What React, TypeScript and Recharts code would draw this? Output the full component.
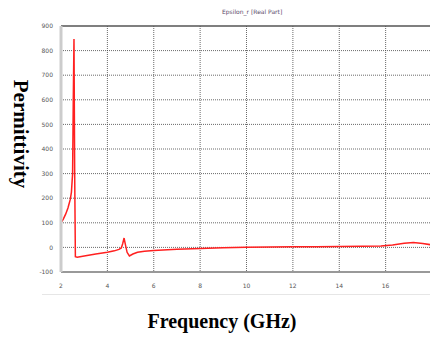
import React from 'react';
import { LineChart, Line, XAxis, YAxis, CartesianGrid, ReferenceLine } from 'recharts';

const freqGHz = [2.0, 2.1, 2.2, 2.3, 2.4, 2.45, 2.5, 2.53, 2.56, 2.59, 2.62, 2.7, 3.0, 3.5, 4.0, 4.3, 4.5, 4.6, 4.66, 4.72, 4.78, 4.85, 4.95, 5.1, 5.3, 5.6, 6.0, 7.0, 8.0, 9.0, 10.0, 11.0, 12.0, 13.0, 14.0, 15.0, 15.8, 16.3, 16.8, 17.2, 17.6, 18.0];
const permittivity = [100, 115, 135, 160, 195, 225, 300, 600, 847, 300, -38, -40, -35, -27, -20, -14, -8, -2, 15, 38, 10, -20, -35, -27, -20, -16, -13, -8, -4, -1, 1, 2, 3, 3, 4, 5, 6, 10, 17, 20, 16, 10];
const xTicks = [2, 4, 6, 8, 10, 12, 14, 16];
const yTicks = [-100, 0, 100, 200, 300, 400, 500, 600, 700, 800, 900];
const chartTitle = 'Epsilon_r [Real Part]';
const xLabel = 'Frequency (GHz)';
const yLabel = 'Permittivity';

const data = freqGHz.map((f, i) => ({ f, v: permittivity[i] }));

export default function App() {
  const tickStyle = { fontSize: 6, fill: '#555', fontFamily: 'DejaVu Sans' };
  return (
    <div style={{ position: 'absolute', left: 0, top: 0, width: 430, height: 338, overflow: 'hidden', background: '#fff' }}>
      <LineChart width={432} height={338} data={data} margin={{ top: 26, right: 0, bottom: 46, left: 41 }}>
        <CartesianGrid stroke="#444" strokeDasharray="1 1" strokeWidth={0.8} verticalValues={[4, 6, 8, 10, 12, 14, 16]} horizontalValues={[0, 100, 200, 300, 400, 500, 600, 700, 800]} />
        <XAxis dataKey="f" type="number" domain={[2, 18]} ticks={xTicks} height={20} allowDataOverflow tick={tickStyle} tickLine={false} axisLine={{ stroke: '#999', strokeWidth: 2 }} tickMargin={6} interval={0} />
        <YAxis type="number" domain={[-100, 900]} ticks={yTicks} width={20} tick={tickStyle} tickLine={false} axisLine={{ stroke: '#ccc', strokeWidth: 3 }} tickMargin={2} interval={0} />
        <ReferenceLine y={900} stroke="#555" strokeWidth={1.5} />
        <Line dataKey="v" type="linear" stroke="#ff2020" strokeWidth={1.5} dot={false} isAnimationActive={false} />
      </LineChart>
      <div style={{ position: 'absolute', left: 42, top: 294, width: 390, height: 1, background: '#e6e6e6' }} />
      <div style={{ position: 'absolute', left: 222, top: 8, fontSize: 6, color: '#5a4a6a', fontFamily: 'DejaVu Sans', whiteSpace: 'nowrap' }}>{chartTitle}</div>
      <div style={{ position: 'absolute', left: 0, top: 310, width: 444, textAlign: 'center', fontSize: 20, fontWeight: 'bold', fontFamily: 'Liberation Serif', whiteSpace: 'nowrap' }}>{xLabel}</div>
      <div style={{ position: 'absolute', left: 20, top: 134, width: 0, height: 0 }}>
        <div style={{ position: 'absolute', left: 0, top: 0, transform: 'translate(-50%, -50%) rotate(90deg)', fontSize: 21, fontWeight: 'bold', fontFamily: 'Liberation Serif', whiteSpace: 'nowrap' }}>{yLabel}</div>
      </div>
    </div>
  );
}
